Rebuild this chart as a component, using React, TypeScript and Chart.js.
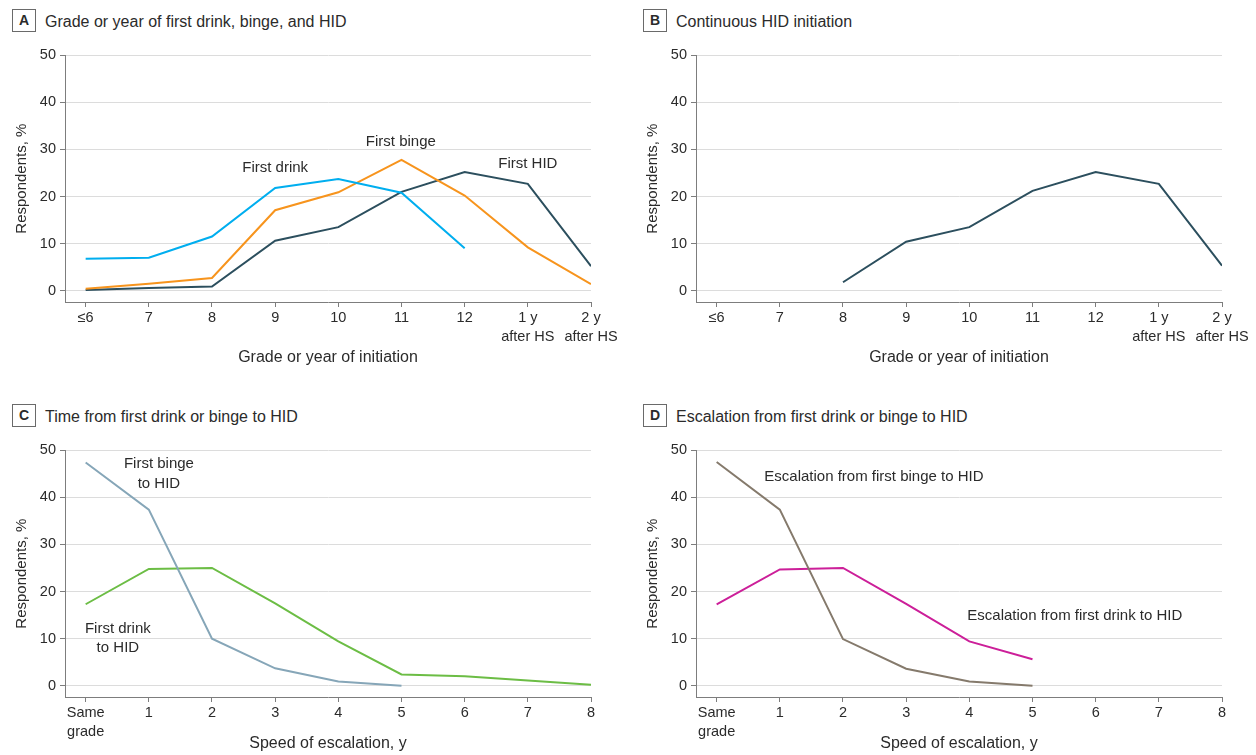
import React, { useEffect, useRef } from "react";
import { Chart, registerables } from "chart.js";

Chart.register(...registerables);

const FONT = "'Liberation Sans', Arial, Helvetica, sans-serif";
const TEXT = "#2b2b2b";
const AXIS = "#7d7d7d";
const GRID = "#dcdcdc";

// ---- data ----
const gradeLabels: (string | string[])[] = ["≤6", "7", "8", "9", "10", "11", "12", ["1 y", "after HS"], ["2 y", "after HS"]];
const speedLabels: (string | string[])[] = [["Same", "grade"], "1", "2", "3", "4", "5", "6", "7", "8"];
const yTicks = [0, 10, 20, 30, 40, 50];

const firstDrink = [6.8, 7.0, 11.5, 21.8, 23.7, 20.8, 9.0, null, null];
const firstBinge = [0.4, 1.5, 2.7, 17.1, 20.9, 27.8, 20.2, 9.2, 1.4];
const firstHID = [0.15, 0.6, 0.9, 10.6, 13.5, 21.0, 25.2, 22.7, 5.2];

const continuousHID = [null, null, 1.8, 10.4, 13.5, 21.2, 25.2, 22.7, 5.3];

const bingeToHID = [47.4, 37.4, 10.0, 3.7, 0.9, 0.0, null, null, null];
const drinkToHID = [17.3, 24.8, 25.0, 17.5, 9.4, 2.4, 2.0, 1.1, 0.2];

const escalationBinge = [47.5, 37.4, 9.9, 3.6, 0.9, 0.0, null, null, null];
const escalationDrink = [17.3, 24.7, 25.0, 17.4, 9.4, 5.6, null, null, null];

type Note = { lines: string[]; x: number; y: number };

const notesA: Note[] = [
  { lines: ["First drink"], x: 3.0, y: 26.1 },
  { lines: ["First binge"], x: 4.99, y: 31.6 },
  { lines: ["First HID"], x: 7.0, y: 26.85 },
];
const notesC: Note[] = [
  { lines: ["First binge", "to HID"], x: 1.16, y: 47.1 },
  { lines: ["First drink", "to HID"], x: 0.51, y: 12.1 },
];
const notesD: Note[] = [
  { lines: ["Escalation from first binge to HID"], x: 2.49, y: 44.3 },
  { lines: ["Escalation from first drink to HID"], x: 5.67, y: 14.8 },
];

// ---- helpers ----
const toPoints = (vals: (number | null)[]) =>
  vals.map((v, i) => ({ x: i, y: v })).filter((p) => p.y !== null) as { x: number; y: number }[];

const notesPlugin = {
  id: "textNotes",
  afterDatasetsDraw(chart: any, _args: any, opts: any) {
    const notes: Note[] = (opts && opts.notes) || [];
    const { ctx, scales } = chart;
    ctx.save();
    ctx.font = `15px ${FONT}`;
    ctx.fillStyle = TEXT;
    ctx.textAlign = "center";
    ctx.textBaseline = "middle";
    for (const n of notes) {
      const x = scales.x.getPixelForValue(n.x);
      const y = scales.y.getPixelForValue(n.y);
      n.lines.forEach((line, i) => ctx.fillText(line, x, y + i * 19.5));
    }
    ctx.restore();
  },
};

type Series = { data: (number | null)[]; color: string; label: string };

function buildConfig(
  labels: (string | string[])[],
  series: Series[],
  notes: Note[],
  xTitle: string,
  xAxisHeight: number,
  xTitlePad: number
): any {
  return {
    type: "line",
    data: {
      datasets: series.map((s) => ({
        label: s.label,
        data: toPoints(s.data),
        borderColor: s.color,
        backgroundColor: s.color,
        borderWidth: 2,
        pointRadius: 0,
        pointHoverRadius: 0,
        fill: false,
        tension: 0,
      })),
    },
    options: {
      responsive: false,
      animation: false,
      events: [],
      layout: { padding: { left: 0, right: 34, top: 15.3, bottom: 0 } },
      font: { family: FONT },
      plugins: {
        legend: { display: false },
        tooltip: { enabled: false },
        title: { display: false },
        textNotes: { notes },
      },
      scales: {
        x: {
          type: "linear",
          min: -0.327,
          max: 8,
          afterBuildTicks: (s: any) => {
            s.ticks = labels.map((_, i) => ({ value: i }));
          },
          afterFit: (s: any) => {
            s.height = xAxisHeight;
          },
          ticks: {
            autoSkip: false,
            maxRotation: 0,
            minRotation: 0,
            padding: 2,
            color: TEXT,
            font: { family: FONT, size: 14.5, lineHeight: 1.3 },
            callback: (_v: any, i: number) => labels[i],
          },
          grid: { drawOnChartArea: false, drawTicks: true, tickLength: 5, tickColor: AXIS, tickWidth: 1 },
          border: { display: true, color: AXIS, width: 1 },
          title: {
            display: true,
            text: xTitle,
            color: TEXT,
            font: { family: FONT, size: 16, lineHeight: 1.2 },
            padding: { top: 0, bottom: xTitlePad },
          },
        },
        y: {
          type: "linear",
          min: -2.4,
          max: 50,
          afterBuildTicks: (s: any) => {
            s.ticks = yTicks.map((v) => ({ value: v }));
          },
          afterFit: (s: any) => {
            s.width = 65;
          },
          ticks: {
            padding: 4,
            color: TEXT,
            font: { family: FONT, size: 14.5 },
          },
          grid: { color: GRID, lineWidth: 1, drawTicks: true, tickLength: 5, tickColor: AXIS, tickWidth: 1 },
          border: { display: true, color: AXIS, width: 1 },
          title: {
            display: true,
            text: "Respondents, %",
            color: TEXT,
            font: { family: FONT, size: 15, lineHeight: 1.2 },
            padding: { top: 12.7, bottom: 0 },
          },
        },
      },
    },
    plugins: [notesPlugin],
  };
}

function Panel(props: {
  letter: string;
  title: string;
  left: number;
  top: number;
  canvasHeight: number;
  config: any;
}) {
  const ref = useRef<HTMLCanvasElement | null>(null);
  useEffect(() => {
    if (!ref.current) return;
    const chart = new Chart(ref.current, props.config);
    return () => chart.destroy();
  }, []);
  return (
    <div style={{ position: "absolute", left: props.left, top: props.top, width: 625, height: props.canvasHeight + 40 }}>
      <div
        style={{
          position: "absolute",
          left: 12,
          top: 9,
          width: 22,
          height: 21,
          border: "1px solid #6a6a6a",
          fontFamily: FONT,
          fontWeight: 700,
          fontSize: 14,
          lineHeight: "21px",
          textAlign: "center",
          color: TEXT,
        }}
      >
        {props.letter}
      </div>
      <div
        style={{
          position: "absolute",
          left: 45,
          top: 12,
          fontFamily: FONT,
          fontSize: 16,
          lineHeight: "20px",
          whiteSpace: "nowrap",
          color: TEXT,
        }}
      >
        {props.title}
      </div>
      <canvas
        ref={ref}
        width={625}
        height={props.canvasHeight}
        style={{ position: "absolute", left: 0, top: 40, width: 625, height: props.canvasHeight, display: "block" }}
      />
    </div>
  );
}

export default function App() {
  const cfgA = buildConfig(
    gradeLabels,
    [
      { label: "First drink", data: firstDrink, color: "#00aeef" },
      { label: "First binge", data: firstBinge, color: "#f7941d" },
      { label: "First HID", data: firstHID, color: "#2c4f5e" },
    ],
    notesA,
    "Grade or year of initiation",
    78,
    12.9
  );
  const cfgB = buildConfig(
    gradeLabels,
    [{ label: "Continuous HID initiation", data: continuousHID, color: "#2c4f5e" }],
    [],
    "Grade or year of initiation",
    78,
    12.9
  );
  const cfgC = buildConfig(
    speedLabels,
    [
      { label: "First binge to HID", data: bingeToHID, color: "#86a6b8" },
      { label: "First drink to HID", data: drinkToHID, color: "#6cbd45" },
    ],
    notesC,
    "Speed of escalation, y",
    58,
    1.4
  );
  const cfgD = buildConfig(
    speedLabels,
    [
      { label: "Escalation from first binge to HID", data: escalationBinge, color: "#857a6c" },
      { label: "Escalation from first drink to HID", data: escalationDrink, color: "#cc1f99" },
    ],
    notesD,
    "Speed of escalation, y",
    58,
    1.4
  );
  return (
    <div style={{ position: "fixed", left: 0, top: 0, width: 1256, height: 755, background: "#fff", overflow: "hidden" }}>
      <Panel letter="A" title="Grade or year of first drink, binge, and HID" left={0} top={0} canvasHeight={340} config={cfgA} />
      <Panel letter="B" title="Continuous HID initiation" left={631} top={0} canvasHeight={340} config={cfgB} />
      <Panel letter="C" title="Time from first drink or binge to HID" left={0} top={395} canvasHeight={320} config={cfgC} />
      <Panel letter="D" title="Escalation from first drink or binge to HID" left={631} top={395} canvasHeight={320} config={cfgD} />
    </div>
  );
}
